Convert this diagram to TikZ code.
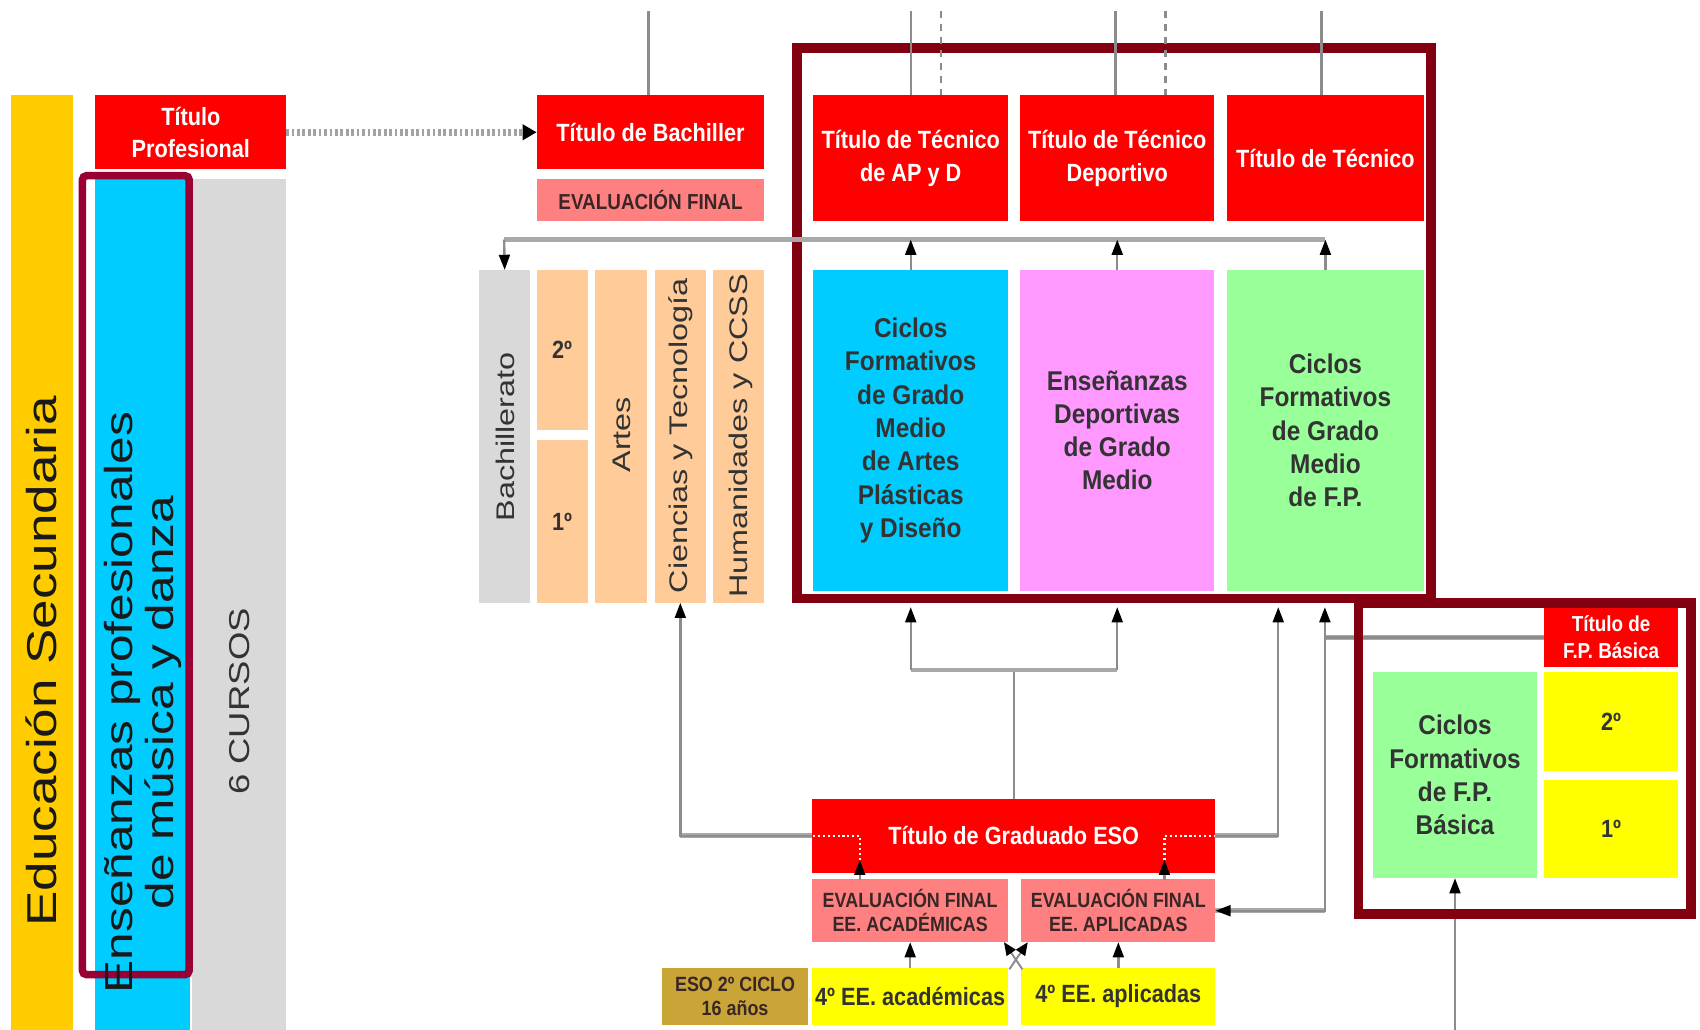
\documentclass[tikz,border=0pt]{standalone}
\usepackage{fontspec}
\setmainfont{Liberation Sans}
\newfontfamily\nbf[FakeStretch=0.87]{Liberation Sans}
\newfontfamily\cbf[FakeStretch=0.9]{Liberation Sans}
\newfontfamily\wfa[FakeStretch=1.27]{Liberation Sans}
\usetikzlibrary{arrows.meta,calc}
\definecolor{rd}{HTML}{FF0000}
\definecolor{salm}{HTML}{FF8080}
\definecolor{peach}{HTML}{FFCC99}
\definecolor{lgray}{HTML}{D9D9D9}
\definecolor{ysec}{HTML}{FFCC00}
\definecolor{cyanb}{HTML}{00CCFF}
\definecolor{pinkb}{HTML}{FF99FF}
\definecolor{greenb}{HTML}{99FF99}
\definecolor{yel}{HTML}{FFFF00}
\definecolor{olivb}{HTML}{C8A536}
\definecolor{maroonb}{HTML}{820010}
\definecolor{crimsonb}{HTML}{990033}
\definecolor{txt}{HTML}{333333}
\definecolor{evtxt}{HTML}{3A2626}
\definecolor{lnc}{HTML}{8C8C8C}
\newcommand\mybox[7]{%
  \pgfmathsetmacro\mybw{#4-#2}\pgfmathsetmacro\mybh{#5-#3}%
  \node[#6, minimum width=\mybw pt, minimum height=\mybh pt] (#1) at ({(#2+#4)/2},{(#3+#5)/2}) {#7};}
\tikzset{
  bx/.style={inner sep=0pt, outer sep=0pt, align=center},
  redb/.style={bx, fill=rd, text=white, font=\nbf\bfseries\fontsize{23}{30}\selectfont},
  salb/.style={bx, fill=salm, text=evtxt, font=\nbf\bfseries\fontsize{19}{22}\selectfont},
  colb/.style={bx, text=txt, font=\cbf\bfseries\fontsize{25}{30.7}\selectfont},
  numb/.style={bx, text=txt, font=\nbf\bfseries\fontsize{23}{25}\selectfont},
  rotlab/.style={rotate=90, anchor=base, inner sep=0pt, text=txt, font=\wfa\fontsize{23.5}{26}\selectfont},
  ln/.style={draw=lnc, line width=2.2pt},
  dln/.style={draw=lnc, line width=2.2pt, dash pattern=on 7pt off 5pt},
  hb/.style={draw=lnc!75, line width=4.5pt},
  arr/.style={ln, -{Triangle[length=14pt,width=10pt,color=black]}},
  arrs/.style={draw=lnc, line width=1.8pt, -{Triangle[length=12pt,width=10pt,color=black]}},
  wdot/.style={draw=white, line width=2pt, dash pattern=on 2pt off 2.5pt},
  dotarr/.style={draw=lnc!80, line width=6pt, dash pattern=on 2.5pt off 2.5pt, -{Triangle[length=13pt,width=14pt,color=black]}},
}
\begin{document}
\begin{tikzpicture}[x=1pt,y=-1pt]
\useasboundingbox (0,0) rectangle (1568,950);
\fill[white] (0,0) rectangle (1568,950);

% ---------- left column ----------
\mybox{edsec}{10}{88}{67}{950}{bx,fill=ysec}{}
\mybox{tprof}{88}{88}{264}{156}{redb}{Título\\Profesional}
\mybox{epmd}{88}{165}{175}{950}{bx,fill=cyanb}{}
\mybox{cursos}{177}{165}{264}{950}{bx,fill=lgray}{}
\draw[crimsonb, line width=7pt, rounded corners=4pt] (76,162) rectangle (174.5,899);
\node[rotlab, text=black!90, font=\wfa\fontsize{38.5}{40}\selectfont] (edsecl) at (52.5,610) {Educación Secundaria};
\node[rotlab, text=black!90, font=\wfa\fontsize{36}{38}\selectfont] (epl1) at (122,648) {Enseñanzas profesionales};
\node[rotlab, text=black!90, font=\wfa\fontsize{36}{38}\selectfont] (epl2) at (160,648) {de música y danza};
\node[rotlab, font=\wfa\fontsize{26.5}{28}\selectfont] (cursosl) at (230.5,647) {6 CURSOS};

% ---------- bachillerato ----------
\mybox{tbach}{495}{88}{705}{156}{redb}{Título de Bachiller}
\mybox{evbach}{495}{165}{705}{204}{salb, font=\nbf\bfseries\fontsize{20}{22}\selectfont}{EVALUACIÓN FINAL}
\mybox{bach}{442}{249}{489}{556}{bx,fill=lgray}{}
\mybox{b2}{495}{249}{542}{397}{numb,fill=peach}{2º}
\mybox{b1}{495}{406}{542}{556}{numb,fill=peach}{1º}
\mybox{artes}{549}{249}{597}{556}{bx,fill=peach}{}
\mybox{cien}{604}{249}{651}{556}{bx,fill=peach}{}
\mybox{hum}{658}{249}{705}{556}{bx,fill=peach}{}
\node[rotlab] (bachl) at (475,403) {Bachillerato};
\node[rotlab] (artesl) at (581.5,401) {Artes};
\node[rotlab] (cienl) at (634.5,402) {Ciencias y Tecnología};
\node[rotlab] (huml) at (689,402) {Humanidades y CCSS};

% ---------- grado medio ----------
\mybox{tc1}{750}{88}{930}{204}{redb}{Título de Técnico\\de AP y D}
\mybox{tc2}{941}{88}{1120}{204}{redb}{Título de Técnico\\Deportivo}
\mybox{tc3}{1132}{88}{1313}{204}{redb}{Título de Técnico}
\mybox{cfa}{750}{249}{930}{545}{colb,fill=cyanb}{Ciclos\\Formativos\\de Grado\\Medio\\de Artes\\Plásticas\\y Diseño}
\mybox{cfd}{941}{249}{1120}{545}{colb,fill=pinkb}{Enseñanzas\\Deportivas\\de Grado\\Medio}
\mybox{cff}{1132}{249}{1313}{545}{colb,fill=greenb}{Ciclos\\Formativos\\de Grado\\Medio\\de F.P.}
\draw[maroonb, line width=9pt] (735,44) rectangle (1320,552);

% ---------- FP basica ----------
\mybox{tfpb}{1424}{561}{1548}{615}{redb, font=\nbf\bfseries\fontsize{20}{25}\selectfont}{Título de\\F.P. Básica}
\mybox{cfpb}{1266}{620}{1418}{810}{colb,fill=greenb}{Ciclos\\Formativos\\de F.P.\\Básica}
\mybox{fb2}{1424}{620}{1548}{711}{numb,fill=yel}{2º}
\mybox{fb1}{1424}{719}{1548}{810}{numb,fill=yel}{1º}

% ---------- ESO ----------
\mybox{grad}{749}{737}{1121}{805}{redb}{Título de Graduado ESO}
\mybox{evac}{749}{811}{930}{869}{salb}{EVALUACIÓN FINAL\\EE. ACADÉMICAS}
\mybox{evap}{942}{811}{1121}{869}{salb}{EVALUACIÓN FINAL\\EE. APLICADAS}
\mybox{y4a}{749}{893}{930}{945}{numb,fill=yel}{4º EE. académicas}
\mybox{y4b}{942}{893}{1121}{945}{numb,fill=yel}{4º EE. aplicadas}
\mybox{eso}{611}{893}{745}{945}{salb,fill=olivb}{ESO 2º CICLO\\16 años}

% ---------- connectors ----------
\draw[dotarr] (tprof.east) -- (tbach.west);
\coordinate (tl0) at (598,10); \draw[ln] (tl0) -- (tl0 |- tbach.north);
\coordinate (tl1) at (840,10); \draw[ln] (tl1) -- (tl1 |- tc1.north);
\coordinate (tl2) at (868,10); \draw[dln] (tl2) -- (tl2 |- tc1.north);
\coordinate (tl3) at (1029,10); \draw[ln] (tl3) -- (tl3 |- tc2.north);
\coordinate (tl4) at (1075,10); \draw[dln] (tl4) -- (tl4 |- tc2.north);
\coordinate (tl5) at (1219,10); \draw[ln] (tl5) -- (tl5 |- tc3.north);

\coordinate (bj) at (465,221);
\draw[hb] (bj) -- (bj -| cff.north);
\draw[arr] (bj) -- (bach.north);
\draw[arr] (cfa.north) -- (cfa.north |- bj);
\draw[arr] (cfd.north) -- (cfd.north |- bj);
\draw[arr] (cff.north) -- (cff.north |- bj);

\coordinate (gj) at (935,618);
\coordinate (bb) at (0,560);
\draw[ln] (grad.north) -- (grad.north |- gj);
\draw[hb] (cfa.south |- gj) -- (cfd.south |- gj);
\draw[arr] (cfa.south |- gj) -- (cfa.south |- bb);
\draw[arr] (cfd.south |- gj) -- (cfd.south |- bb);

\draw[hb] (grad.west) -- (grad.west -| cien.south);
\draw[arr] (grad.west) -| (cien.south);

\coordinate (r1) at (1179,560);
\draw[hb] (grad.east) -- (grad.east -| r1);
\draw[arr] (grad.east) -| (r1);

\coordinate (r2) at (1222,560);
\coordinate (r2m) at (1222,588);
\draw[hb] (tfpb.west) -- (r2m);
\draw[arr] (tfpb.west) -| (r2);
\draw[hb] (r2m |- evap.east) -- (evap.east);
\draw[arr] (r2m) |- (evap.east);

\coordinate (bfp) at (1342,950);
\draw[arr] (bfp) -- (cfpb.south);

\draw[arr] (y4a.north) -- (evac.south);
\draw[arr] (y4b.north) -- (evap.south);
\coordinate (xa1) at (931,894); \coordinate (xa2) at (948,869);
\coordinate (xb1) at (943,894); \coordinate (xb2) at (926,869);
\draw[arrs] (xa1) -- (xa2);
\draw[arrs] (xb1) -- (xb2);

\coordinate (ea1) at (793,812); \coordinate (ea2) at (793,793);
\coordinate (eb1) at (1074,812); \coordinate (eb2) at (1074,793);
\draw[wdot] (ea2) |- (grad.west);
\draw[wdot] (eb2) |- (grad.east);
\draw[arr] (ea1) -- (ea2);
\draw[arr] (eb1) -- (eb2);

\draw[maroonb, line width=9pt] (1253,556) rectangle (1560,843);
\end{tikzpicture}
\end{document}
